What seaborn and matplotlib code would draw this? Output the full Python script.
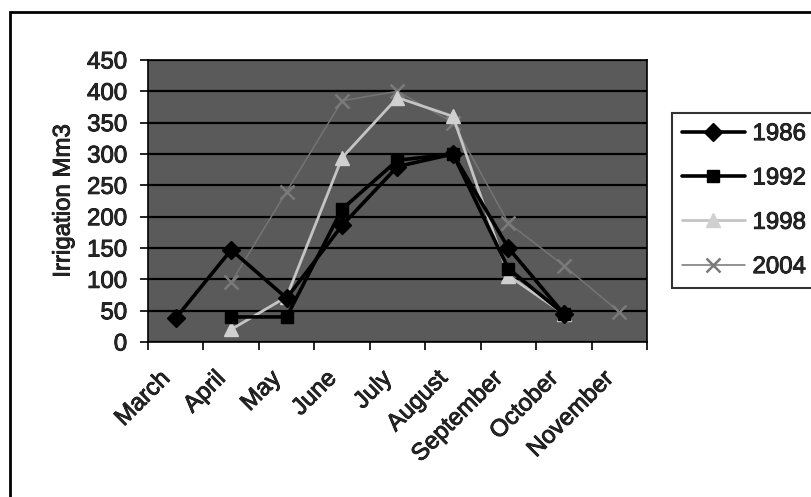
import numpy as np
import pandas as pd
import matplotlib
matplotlib.use("Agg")
import matplotlib.pyplot as plt
from matplotlib.patches import Rectangle
import matplotlib.transforms as mtransforms
import matplotlib.patheffects as pe
import seaborn as sns

months = ["March", "April", "May", "June", "July", "August",
          "September", "October", "November"]
years = ["1986", "1992", "1998", "2004"]
v1986 = [38, 147, 70, 186, 280, 300, 150, 45, np.nan]
v1992 = [np.nan, 40, 40, 212, 290, 300, 117, 45, np.nan]
v1998 = [np.nan, 20, 72, 294, 390, 360, 106, 45, np.nan]
v2004 = [np.nan, 95, 240, 385, 400, 350, 190, 122, 48]
yticks = [0, 50, 100, 150, 200, 250, 300, 350, 400, 450]

sns.set_theme(style="white")
plt.rcParams['font.family'] = ['Liberation Sans', 'DejaVu Sans']

fig = plt.figure(figsize=(8.12, 4.97), dpi=100)
ax = fig.add_axes([148/812, 1-342/497, (647-148)/812, (342-60)/497])
ax.set_facecolor('#5a5a5a')

styles = {
    "1986": dict(color='black', lw=2.6, marker='D', ms=9, mfc='black', mec='black'),
    "1992": dict(color='black', lw=2.6, marker='s', ms=9, mfc='black', mec='black'),
    "1998": dict(color='#c4c4c4', lw=2.0, marker='^', ms=10, mfc='#d0d0d0', mec='#d0d0d0'),
    "2004": dict(color='#747474', lw=1.1, marker='x', ms=10, mfc='#7a7a7a', mec='#7a7a7a', mew=1.8),
}
series = {"1986": v1986, "1992": v1992, "1998": v1998, "2004": v2004}
pos = np.arange(len(months)) + 0.5
for yr in years[::-1]:
    st = dict(styles[yr])
    df = pd.DataFrame({"pos": pos, "value": series[yr]}).dropna()
    sns.lineplot(data=df, x="pos", y="value", ax=ax, label=yr,
                 color=st.pop('color'), linewidth=st.pop('lw'),
                 marker=st.pop('marker'), markersize=st.pop('ms'),
                 markerfacecolor=st.pop('mfc'), markeredgecolor=st.pop('mec'),
                 markeredgewidth=st.pop('mew', 1.0), sort=False)

thick = [pe.withStroke(linewidth=0.6, foreground='black')]
FS = 17.3

ax.set_xlim(0, len(months))
ax.set_ylim(0, 450)
ax.set_yticks(yticks)
ax.yaxis.grid(True, color='black', lw=1.6)
ax.set_axisbelow(True)
ax.set_xticks(np.arange(len(months) + 1))
ax.set_xticklabels([])
ax.set_xticks(pos, minor=True)
ax.set_xticklabels(months, minor=True, rotation=45, ha='right', va='center',
                   rotation_mode='anchor', fontsize=FS)
ax.tick_params(axis='x', which='major', direction='out', length=6, width=1.2, color='black', bottom=True)
ax.tick_params(axis='x', which='minor', length=0, pad=24)
ax.tick_params(axis='y', direction='out', length=6, width=1.2, color='black', left=True,
               labelsize=FS, pad=9)
offset = mtransforms.ScaledTranslation(-9/100, 0, fig.dpi_scale_trans)
for lab in ax.get_xticklabels(minor=True):
    lab.set_transform(lab.get_transform() + offset)
    lab.set_path_effects(thick)
for lab in ax.get_yticklabels():
    lab.set_path_effects(thick)
ax.set_xlabel("")
ax.set_ylabel("Irrigation Mm3", fontsize=FS, labelpad=9)
ax.yaxis.label.set_path_effects(thick)
for sp in ax.spines.values():
    sp.set_color('black')
    sp.set_linewidth(1.2)

handles, labels = ax.get_legend_handles_labels()
order = [labels.index(y) for y in years]
leg = ax.legend([handles[i] for i in order], [labels[i] for i in order],
                loc='upper left', bbox_to_anchor=(672/812, 1-113/497),
                bbox_transform=fig.transFigure, fontsize=FS, frameon=True,
                fancybox=False, edgecolor='black', handlelength=2.6,
                handletextpad=0.33, labelspacing=0.93, borderpad=0.42,
                borderaxespad=0)
leg.get_frame().set_linewidth(1.5)
leg.get_frame().set_facecolor('white')
for t in leg.get_texts():
    t.set_path_effects(thick)

fig.patches.append(Rectangle((10/812, -0.2), 1.2, 1 - 12/497 + 0.2,
                             transform=fig.transFigure, fill=False,
                             edgecolor='black', lw=2.0))

fig.savefig("out.png", dpi=100)
